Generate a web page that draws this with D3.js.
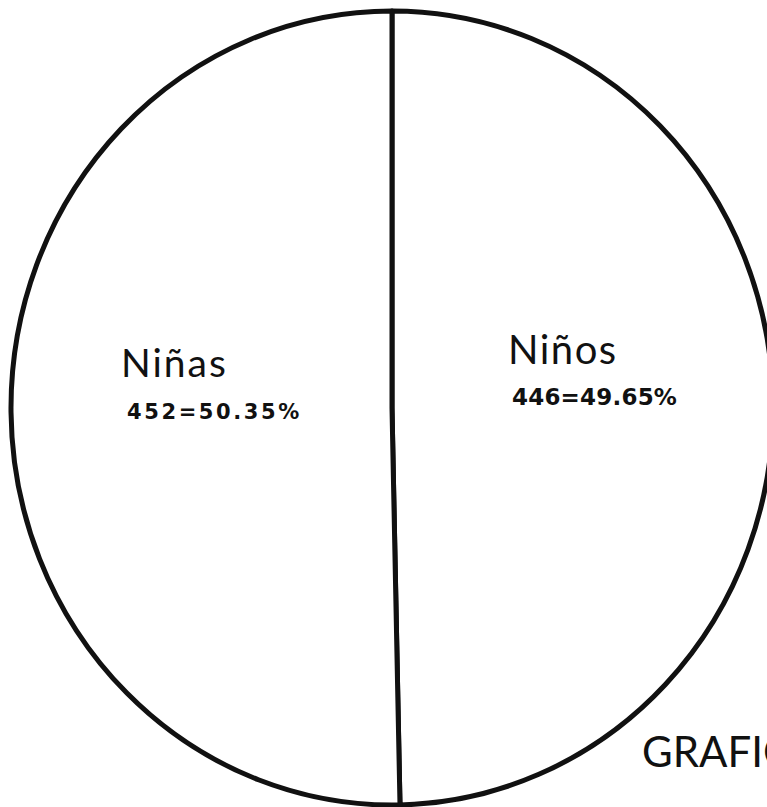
<!DOCTYPE html>
<html>
<head>
<meta charset="utf-8">
<script src="https://cdn.jsdelivr.net/npm/d3@7"></script>
<style>
  body { margin: 0; background: #fff; }
  svg { display: block; }
  .lbl { font-family: "Lato", "Noto Sans", sans-serif; fill: #111; }
  .val { font-family: "DejaVu Sans", sans-serif; font-weight: bold; fill: #111; }
</style>
</head>
<body>
<div id="chart-area"></div>
<script>
// data
var categories = ["Niños", "Niñas"];
var counts = [446, 452];
var pctLabels = ["446=49.65%", "452=50.35%"];
var title = "GRAFICA";

var width = 767, height = 807;
var cx = 392, cy = 408;
var rx = 381, ry = 397;

var svg = d3.select("#chart-area").append("svg")
    .attr("width", width)
    .attr("height", height);

var data = categories.map(function (c, i) {
    return {name: c, value: counts[i], label: pctLabels[i]};
});

// keep order: Niños first, clockwise from top
var pie = d3.pie()
    .sort(null)
    .value(function (d) { return d.value; });

var arc = d3.arc()
    .innerRadius(0)
    .outerRadius(rx);

var g = svg.append("g")
    .attr("transform", "translate(" + cx + "," + cy + ") scale(1," + (ry / rx) + ")");

g.selectAll(".slice")
    .data(pie(data))
    .enter().append("path")
    .attr("class", "slice")
    .attr("d", arc)
    .attr("fill", "#fff")
    .attr("stroke", "#111")
    .attr("stroke-width", 5)
    .attr("stroke-linejoin", "round")
    .attr("vector-effect", "non-scaling-stroke");

// label positions (hand placed like the original)
var labelPos = {
    "Niños": {x: 508, y: 364, size: 40, ls: 1.5, vx: 512, vy: 405, vsize: 23, vls: 0.2},
    "Niñas": {x: 121, y: 377, size: 39, ls: 2, vx: 127, vy: 419, vsize: 21, vls: 2.6}
};

data.forEach(function (d) {
    var p = labelPos[d.name];
    svg.append("text")
        .attr("class", "lbl")
        .attr("x", p.x)
        .attr("y", p.y)
        .style("font-size", p.size + "px")
        .style("letter-spacing", p.ls + "px")
        .text(d.name);
    svg.append("text")
        .attr("class", "val")
        .attr("x", p.vx)
        .attr("y", p.vy)
        .style("font-size", p.vsize + "px")
        .style("letter-spacing", p.vls + "px")
        .text(d.label);
});

svg.append("text")
    .attr("class", "lbl")
    .attr("x", 642)
    .attr("y", 767)
    .style("font-size", "42px")
    .text(title);
</script>
</body>
</html>
